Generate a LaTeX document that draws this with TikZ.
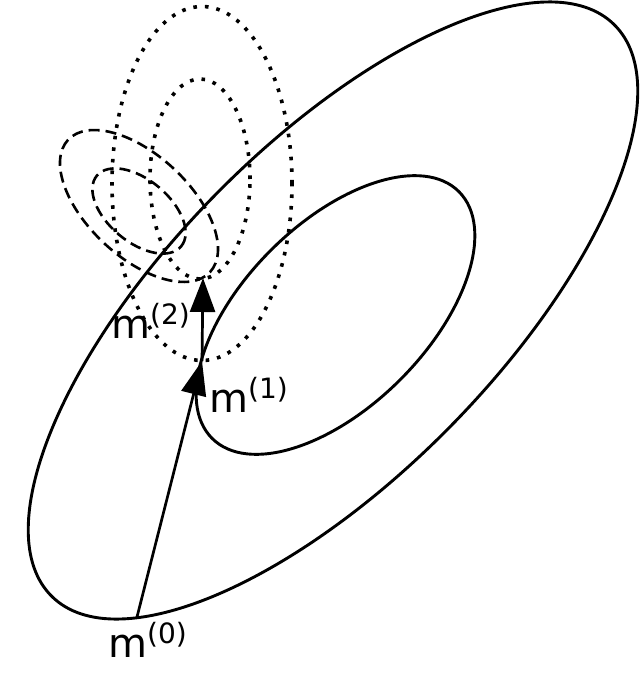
\documentclass[tikz,border=0pt]{standalone}
\usepackage{fontspec}
\newfontfamily\lblfont{DejaVu Sans}
\usetikzlibrary{arrows.meta}
\newcommand\msup[1]{m\raisebox{14pt}{\fontsize{28}{30}\selectfont(#1)}}
\begin{document}
\begin{tikzpicture}[x=1pt,y=-1pt,
  solidline/.style={line width=2.9pt},
  dotline/.style={line width=3.6pt, dash pattern=on 3.6pt off 8pt},
  dashline/.style={line width=2.6pt, dash pattern=on 11pt off 6pt},
  steparrow/.style={line width=2.7pt, -{Triangle[length=34pt,width=25pt]}},
  lbl/.style={inner sep=0pt, anchor=base west, font=\lblfont\fontsize{40}{44}\selectfont}
]
\useasboundingbox (0,0) rectangle (640,690);
% outer contour
\draw[solidline, rotate around={45.5:(333,310.5)}] (333,310.5) ellipse [x radius=401pt, y radius=165pt];
% inner contour
\draw[solidline, rotate around={45:(335.5,315)}] (335.5,315) ellipse [x radius=174.5pt, y radius=91.5pt];
% dotted contours
\draw[dotline] (202,183.5) ellipse [x radius=90pt, y radius=177pt];
\draw[dotline] (200,179) ellipse [x radius=50pt, y radius=100pt];
% dashed contours
\draw[dashline, rotate around={-43:(139,206)}] (139,206) ellipse [x radius=97pt, y radius=51pt];
\draw[dashline, rotate around={-40:(139,211)}] (139,211) ellipse [x radius=55pt, y radius=31pt];
% points and steps
\coordinate (m0) at (137,617);
\coordinate (m1) at (202,361);
\coordinate (m2) at (203,278);
\draw[steparrow] (m0) -- (m1);
\draw[steparrow] (m1) -- (m2);
\node[lbl] (l2) at (111,338) {\msup{2}};
\node[lbl] (l1) at (209,412) {\msup{1}};
\node[lbl] (l0) at (108,657) {\msup{0}};
\end{tikzpicture}
\end{document}
